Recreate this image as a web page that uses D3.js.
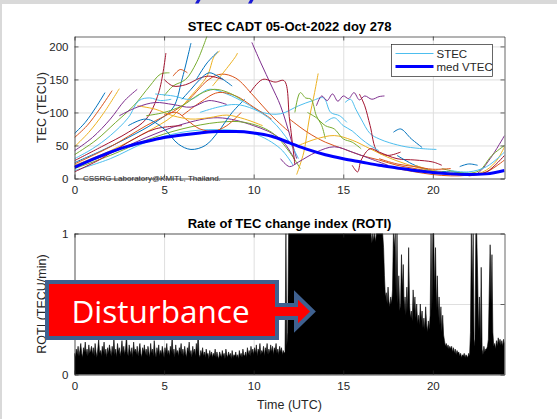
<!DOCTYPE html>
<html>
<head>
<meta charset="utf-8">
<script src="https://cdn.jsdelivr.net/npm/d3@7"></script>
<style>
  html, body { margin: 0; padding: 0; background: #d9d9d9; }
  svg { display: block; }
</style>
</head>
<body>
<div id="chart"></div>
<script>
// ---- values ----
const hourTicks = [0, 5, 10, 15, 20];
const tecTicks = [0, 50, 100, 150, 200];
const rotiTicks = [0, 0.5, 1];
const rotiTickLabels = ['0', '0.5', '1'];

// median VTEC, one value per hour 0..24
const medHours = [0, 1, 2, 3, 4, 5, 6, 7, 8, 9, 10, 11, 12, 13, 14, 15, 16, 17, 18, 19, 20, 21, 22, 23, 24];
const medVtec = [17, 29, 40, 49, 56, 62, 66, 69, 71, 71, 69, 64, 54, 44, 36, 30, 25, 20, 16, 12, 9, 7, 6, 7, 12];

// STEC arcs, [hour, TECU] per point
const stecArcs = [
  [[0,68],[0.6,85],[1.2,108],[1.7,130]],
  [[0,62],[0.7,80],[1.4,105],[2.1,133]],
  [[0,48],[0.8,70],[1.6,98],[2.5,136]],
  [[0,42],[1,62],[2,90],[2.8,118],[3.5,135]],
  [[0,36],[1.2,58],[2.3,85],[3.3,110],[4.2,140],[4.8,158],[5.3,160]],
  [[0,30],[1,45],[2,65],[3,92],[3.6,118],[4.2,122],[4.8,118],[5.4,120]],
  [[0,27],[1.5,48],[3,70],[4,90],[4.7,130],[5.1,190]],
  [[0,24],[1.5,42],[3,62],[4.5,85],[5.5,107],[6,150],[6.5,205]],
  [[0,22],[2,48],[4,80],[6,110],[7.5,150],[8.2,158],[9,152],[10,125],[11,95],[12,70]],
  [[0,20],[2,42],[4,70],[5.5,95],[6.5,125],[7.4,155],[7.8,185],[8.1,193]],
  [[0,18],[2,38],[4,62],[6,82],[8,92],[10,80],[11.5,60],[12.3,28]],
  [[0,15],[2,35],[4,58],[6,75],[8,85],[9.5,85],[11,70],[12,40],[12.6,15]],
  [[0,12],[2,30],[4,55],[6,70],[8,74],[10,68],[11.5,45],[12.2,20]],
  [[0,10],[1.5,30],[3,55],[4.5,75],[6,80]],
  [[3,80],[4,90],[5,75],[5.8,52],[6.5,44],[7.3,50],[8,70],[8.8,100],[9.5,120]],
  [[5,97],[5.7,100],[6.3,88],[7,75],[7.8,72],[8.5,80],[9.3,100]],
  [[7.7,140],[8.3,160],[9,185],[9.1,190]],
  [[9.9,206],[10.4,175],[11,140],[11.5,110],[12.1,58],[12.4,30]],
  [[5,125],[5.5,140],[6.2,150],[6.8,175],[7.4,216]],
  [[4.5,128],[5.5,125],[6.5,120],[7.5,135],[8.5,128],[9.5,115],[10.5,100],[11.5,98],[12.5,110],[13.3,118],[13.9,122],[14.3,100],[14.8,95],[15.2,85]],
  [[5,150],[5.5,140],[6.2,142],[7,152],[7.5,155],[8.3,150]],
  [[6,120],[6.5,135],[7,150],[7.5,160],[8,155],[8.8,140]],
  [[6,95],[7,115],[8,130],[9,125],[10,108],[11,90]],
  [[3.5,110],[4.5,105],[5.5,95],[6.5,90],[7.5,92],[8.5,96],[9.5,90],[10.5,80]],
  [[2.5,95],[3.5,108],[4.5,115],[5.5,112],[6.5,108],[7.5,118],[8.5,112]],
  [[4,95],[5,100],[6,110],[7,128],[7.8,135],[8.6,130],[9.4,118]],
  [[7,100],[8,108],[9,112],[10,105],[11,88],[12,55],[12.5,30]],
  [[9.8,130],[10.5,150],[11.2,146],[11.7,148],[12,90],[12.3,21]],
  [[6.8,150],[7.4,175],[8,192]],
  [[5.5,155],[5.9,165],[6.3,160]],
  [[12.4,6],[12.8,40],[13.1,90],[13.4,130],[13.6,159]],
  [[13.5,110],[13.8,125],[14.1,118],[14.4,128],[14.7,117],[15,125],[15.3,121],[15.6,130],[15.9,119],[16.2,125],[16.6,120],[17,124],[17.3,125]],
  [[12.3,100],[12.6,130],[12.9,122],[13.2,120],[13.5,95],[13.8,80],[14,60]],
  [[15.1,115],[15.4,120],[15.7,105],[16,90],[16.5,68],[17,60],[17.6,54],[18.5,48],[19.5,45],[20.2,44]],
  [[15.9,128],[16.2,110],[16.5,80],[16.9,41],[17.5,35],[18.2,40]],
  [[17.8,70],[18.2,75],[18.8,60],[19.4,47]],
  [[12,90],[13,70],[14,55],[15,45],[16,35],[17,28],[18,20],[19,15],[20,10]],
  [[12.5,50],[13.5,60],[14.5,65],[15.5,58],[16.5,45],[17.5,32],[18.5,22],[19.5,14],[20.5,8]],
  [[11.5,30],[12,18],[12.5,25],[13.5,40],[14.5,48],[15.5,40],[16.5,30],[17.5,20]],
  [[13,100],[13.5,92],[14,80],[14.5,75],[15,60],[15.5,55],[16,45]],
  [[14,85],[14.5,92],[15,80],[15.5,72],[16,60],[16.5,50],[17,42]],
  [[15.5,20],[15.8,10],[16,28],[16.5,45],[17,40],[18,30],[19,28],[20,25],[20.5,20]],
  [[18,35],[19,20],[20,12],[21,10],[22,8]],
  [[18,15],[19,10],[20,6],[21,4],[22,5],[23,10],[24,28]],
  [[19,20],[20,12],[21,8],[22,6],[22.8,10],[23.5,25],[24,48]],
  [[20,10],[21,7],[22,5],[22.5,8],[23.2,30],[24,65]],
  [[20.5,15],[21.5,9],[22,8],[22.6,12],[23.3,35],[24,50]],
  [[21,12],[22,10],[23,18],[24,40]],
  [[22,4],[23,10],[24,35]],
  [[21.5,18],[22,22],[22.5,20]],
  [[17,30],[18,22],[19,18],[20,14],[21,15]]
];

// ROTI upper envelope, one value every 0.05 h from 0 to 24
const rotiStep = 0.05;
const roti = [
  .15,.12,.18,.14,.2,.13,.17,.22,.15,.12,.19,.16,.23,.14,.18,.13,.21,.15,.17,.2,
  .14,.19,.13,.22,.16,.12,.18,.25,.15,.17,.13,.2,.16,.23,.14,.18,.12,.19,.15,.21,
  .17,.13,.2,.15,.26,.14,.18,.12,.22,.16,.19,.13,.17,.24,.15,.2,.14,.18,.28,.16,
  .13,.21,.17,.14,.19,.12,.23,.16,.18,.14,.2,.13,.17,.22,.15,.12,.19,.16,.21,.14,
  .18,.13,.2,.16,.12,.22,.15,.18,.13,.24,.16,.12,.19,.15,.21,.13,.17,.14,.2,.16,
  .12,.19,.15,.22,.14,.17,.13,.2,.16,.27,.14,.18,.12,.21,.15,.17,.13,.19,.16,.22,
  .14,.18,.13,.2,.15,.12,.19,.16,.23,.14,.17,.12,.2,.15,.18,.13,.22,.16,.3,.14,
  .12,.17,.14,.19,.13,.16,.12,.18,.14,.15,.11,.17,.13,.16,.12,.15,.13,.18,.12,.16,
  .13,.11,.16,.14,.12,.17,.13,.15,.11,.18,.14,.12,.16,.13,.15,.11,.17,.12,.14,.13,
  .16,.12,.14,.11,.17,.13,.15,.12,.18,.14,.13,.16,.12,.19,.14,.17,.13,.2,.15,.18,
  .14,.19,.15,.21,.13,.18,.16,.22,.14,.17,.15,.2,.13,.19,.16,.22,.14,.18,.15,.21,
  .16,.2,.14,.19,.17,.22,.15,.18,.14,.2,.16,.19,.14,.17,.15,.16,1,.2,.3,1,
  1,1,1,1,1,1,1,1,1,1,1,1,1,1,1,1,1,1,1,1,
  1,1,1,1,1,1,1,1,1,1,1,1,1,1,1,1,1,1,1,1,
  1,1,1,1,1,1,1,1,1,1,1,1,1,1,1,1,1,1,1,1,
  1,1,1,1,1,1,1,1,1,1,1,1,1,1,1,1,1,1,1,1,
  1,1,1,1,1,1,1,1,1,1,1,1,.93,1,.95,1,.94,1,1,1,
  1,1,1,1,1,.9,.7,.55,.58,.5,.62,.52,.48,.55,.5,.6,1,.9,1,.55,
  1,.5,.7,.45,.5,.85,.6,.78,.45,.55,.42,.62,.45,.9,.5,.4,.45,.38,.6,.45,
  .55,.4,.5,.36,.42,.35,.5,.38,.45,.33,.4,.32,.48,.36,.3,.38,.32,.42,1,.45,
  1,1,.6,.9,.45,.7,.4,.55,.35,.48,.3,.42,.28,.24,.2,.22,.19,.21,.18,.2,
  .18,.2,.16,.19,.15,.18,.14,.17,.15,.16,.13,.15,.12,.14,.13,.15,.12,.14,.13,.12,
  .15,.13,.3,1,.6,1,.25,.2,1,1,.7,.3,.55,.2,.76,.18,.14,.2,.16,.18,
  .18,.2,.25,.6,.92,.5,.85,.3,.2,.22,.18,.24,.2,.26,.22,.25,.21,.24,.2,.25,
  .22
];

// ---- layout ----
const W = 557, H = 419;
const topBox = { left: 74.5, right: 504.5, top: 36.5, bottom: 178.5 };
const botBox = { left: 74.5, right: 504.5, top: 233.5, bottom: 374.5 };
const colorOrder = ['#0072BD', '#D95319', '#EDB120', '#7E2F8E', '#77AC30', '#4DBEEE', '#A2142F'];
const font = '"Liberation Sans", Arial, Helvetica, sans-serif';
const ink = '#262626';

const svg = d3.select('#chart').append('svg')
  .attr('width', W)
  .attr('height', H);

// slide page
svg.append('rect').attr('x', 2).attr('y', 4).attr('width', W - 2).attr('height', H - 4).attr('fill', '#fff');
// bits of the slide heading cut off at the top
svg.append('path').attr('d', 'M197,0 L200.5,0 L198.5,3.5 L195,3.5 Z').attr('fill', '#1a1ad6');
svg.append('path').attr('d', 'M250,0 L253.5,0 L251.5,3.5 L248,3.5 Z').attr('fill', '#1a1ad6');

const xTop = d3.scaleLinear().domain([0, 24]).range([topBox.left, topBox.right]);
const yTop = d3.scaleLinear().domain([0, 215]).range([topBox.bottom, topBox.top]);
const xBot = d3.scaleLinear().domain([0, 24]).range([botBox.left, botBox.right]);
const yBot = d3.scaleLinear().domain([0, 1]).range([botBox.bottom, botBox.top]);

function clipFor(id, box) {
  svg.append('clipPath').attr('id', id)
    .append('rect')
    .attr('x', box.left).attr('y', box.top)
    .attr('width', box.right - box.left).attr('height', box.bottom - box.top);
}

function drawGrid(box, x, y, yTicks) {
  const g = svg.append('g');
  g.append('g').attr('transform', `translate(0,${box.bottom})`)
    .call(d3.axisBottom(x).tickValues(hourTicks).tickSize(-(box.bottom - box.top)).tickFormat(''));
  g.append('g').attr('transform', `translate(${box.left},0)`)
    .call(d3.axisLeft(y).tickValues(yTicks).tickSize(-(box.right - box.left)).tickFormat(''));
  g.selectAll('.domain').remove();
  g.selectAll('line').attr('stroke', '#dfdfdf').attr('stroke-width', 1);
}

function drawAxes(box, x, y, yTicks, yFormat) {
  const g = svg.append('g');
  const tick = 4;
  g.append('g').attr('transform', `translate(0,${box.bottom})`)
    .call(d3.axisBottom(x).tickValues(hourTicks).tickSizeInner(-tick).tickSizeOuter(0).tickPadding(7));
  g.append('g').attr('transform', `translate(0,${box.top})`)
    .call(d3.axisTop(x).tickValues(hourTicks).tickSizeInner(-tick).tickSizeOuter(0).tickFormat(''));
  g.append('g').attr('transform', `translate(${box.left},0)`)
    .call(d3.axisLeft(y).tickValues(yTicks).tickFormat(yFormat).tickSizeInner(-tick).tickSizeOuter(0).tickPadding(6));
  g.append('g').attr('transform', `translate(${box.right},0)`)
    .call(d3.axisRight(y).tickValues(yTicks).tickSizeInner(-tick).tickSizeOuter(0).tickFormat(''));
  g.selectAll('.domain, .tick line').attr('stroke', ink).attr('stroke-width', 0.7);
  g.selectAll('text').attr('fill', ink).attr('font-family', font).attr('font-size', 11.5);
}

function label(txt, x, y, opts = {}) {
  const t = svg.append('text')
    .attr('x', x).attr('y', y)
    .attr('text-anchor', opts.anchor || 'middle')
    .attr('font-family', opts.family || font)
    .attr('font-size', opts.size || 12)
    .attr('font-weight', opts.weight || 'normal')
    .attr('fill', opts.fill || ink)
    .text(txt);
  if (opts.rotate) t.attr('transform', `rotate(-90,${x},${y})`);
  return t;
}

// ---- top panel: STEC ----
clipFor('clipTop', topBox);
drawGrid(topBox, xTop, yTop, tecTicks);

const arcLine = d3.line()
  .x(d => xTop(d[0]))
  .y(d => yTop(d[1]))
  .curve(d3.curveCatmullRom.alpha(0.5));

const topData = svg.append('g').attr('clip-path', 'url(#clipTop)');
topData.selectAll('path.stec')
  .data(stecArcs)
  .join('path')
  .classed('stec', true)
  .attr('d', arcLine)
  .attr('fill', 'none')
  .attr('stroke', (d, i) => colorOrder[i % colorOrder.length])
  .attr('stroke-width', 1);

const medLine = d3.line()
  .x((d, i) => xTop(medHours[i]))
  .y(d => yTop(d))
  .curve(d3.curveMonotoneX);
topData.append('path')
  .attr('d', medLine(medVtec))
  .attr('fill', 'none')
  .attr('stroke', '#0000ff')
  .attr('stroke-width', 3);

drawAxes(topBox, xTop, yTop, tecTicks, d3.format('d'));

label('STEC CADT 05-Oct-2022 doy 278', (topBox.left + topBox.right) / 2, 31, { weight: 'bold', size: 13, fill: '#000' });
label('TEC (TECU)', 46, (topBox.top + topBox.bottom) / 2, { rotate: true, size: 12.5 });
label('CSSRG Laboratory@KMITL, Thailand.', 83, 180.5, { anchor: 'start', size: 8 });

// legend
const lg = svg.append('g').attr('transform', 'translate(391.5,44.5)');
lg.append('rect').attr('width', 101).attr('height', 32).attr('fill', '#fff').attr('stroke', ink).attr('stroke-width', 0.7);
lg.append('line').attr('x1', 4).attr('x2', 42).attr('y1', 9).attr('y2', 9).attr('stroke', colorOrder[5]).attr('stroke-width', 1);
lg.append('line').attr('x1', 4).attr('x2', 42).attr('y1', 22).attr('y2', 22).attr('stroke', '#0000ff').attr('stroke-width', 3);
lg.append('text').attr('x', 45).attr('y', 13).text('STEC')
  .attr('font-family', font).attr('font-size', 11.5).attr('fill', ink);
lg.append('text').attr('x', 45).attr('y', 26).text('med VTEC')
  .attr('font-family', font).attr('font-size', 11.5).attr('fill', ink);

// ---- bottom panel: ROTI ----
clipFor('clipBot', botBox);
drawGrid(botBox, xBot, yBot, rotiTicks);

const rotiArea = d3.area()
  .x((d, i) => xBot(i * rotiStep))
  .y0(yBot(0))
  .y1(d => yBot(d));
const botData = svg.append('g').attr('clip-path', 'url(#clipBot)');
botData.append('path')
  .attr('d', rotiArea(roti))
  .attr('fill', '#000')
  .attr('stroke', '#000')
  .attr('stroke-width', 0.6);

drawAxes(botBox, xBot, yBot, rotiTicks, (d, i) => rotiTickLabels[i]);

label('Rate of TEC change index (ROTI)', (botBox.left + botBox.right) / 2, 228, { weight: 'bold', size: 13, fill: '#000' });
label('ROTI (TECU/min)', 46, (botBox.top + botBox.bottom) / 2, { rotate: true, size: 12.5 });
label('Time (UTC)', (botBox.left + botBox.right) / 2, 409, { size: 12.5 });

// ---- "Disturbance" call-out ----
svg.append('path')
  .attr('d', 'M47,282 H277 V305 H296 V295 L313,311.5 L296,328 V318 H277 V338 H47 Z')
  .attr('fill', '#ff0000')
  .attr('stroke', '#3f6190')
  .attr('stroke-width', 4)
  .attr('stroke-linejoin', 'miter');
label('Disturbance', 71.5, 322.5, { anchor: 'start', family: '"Open Sans", sans-serif', size: 31.5, fill: '#fff' });
</script>
</body>
</html>
